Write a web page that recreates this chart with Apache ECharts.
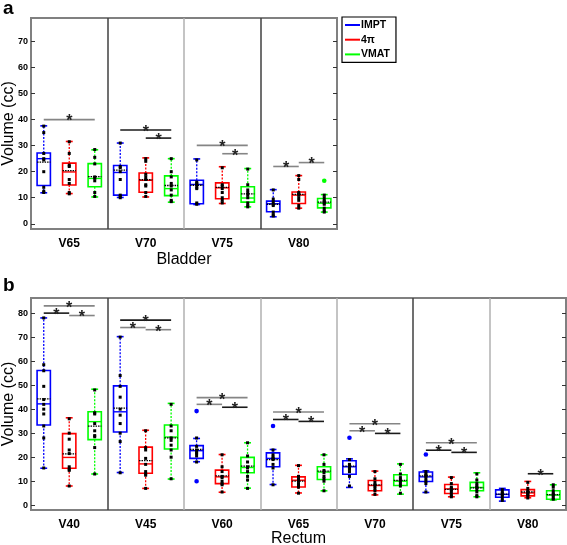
<!DOCTYPE html>
<html>
<head>
<meta charset="utf-8">
<script src="https://cdn.jsdelivr.net/npm/echarts@6/dist/echarts.min.js"></script>
<style>
html,body{margin:0;padding:0;background:#fff;}
#chart{width:567px;height:545px;}
</style>
</head>
<body>
<div id="chart"></div>
<script>
// ---------- DATA ----------
const groupNames = ['IMPT', '4\u03c0', 'VMAT'];
const bladderCats = ['V65', 'V70', 'V75', 'V80'];
const rectumCats = ['V40', 'V45', 'V60', 'V65', 'V70', 'V75', 'V80'];
const bladderTicks = [0, 10, 20, 30, 40, 50, 60, 70];
const rectumTicks = [0, 10, 20, 30, 40, 50, 60, 70, 80];

// box stats: [min, q1, median, q3, max, mean]
const bladderIMPT = [[11.9,14.7,25.0,27.2,37.6,23.7],[10.1,11.0,19.7,22.4,31.0,20.6],[7.4,7.7,15.1,16.7,24.9,14.8],[2.7,4.6,7.7,8.7,13.1,7.5]];
const bladder4pi  = [[11.6,14.9,19.9,23.3,31.6,20.4],[10.3,12.1,16.7,19.5,25.3,16.9],[7.8,9.6,13.8,15.7,21.9,14.0],[6.0,7.8,11.0,12.2,18.5,11.3]];
const bladderVMAT = [[10.3,14.2,17.4,23.1,28.4,18.1],[8.3,10.8,13.5,18.4,25.0,14.7],[6.5,8.3,9.9,14.2,21.2,11.5],[4.5,6.1,7.9,9.7,11.2,8.3]];

const bladderIMPTPts = [[37.5,35,27,25,24.5,20,14,12.5,12],[31,22,21.5,20,17,11,10.5,10],[24.5,16,15.5,15,14,13.5,8,7.5],[13,9.5,8.5,7.5,7,4.5,3.5,3]];
const bladder4piPts  = [[31.5,27,22.5,22,17,15.5,12,11.5],[25,24,19,18,17,15,14.5,12,10.5],[21.5,15,14.5,13.5,12,10,9,8],[18.5,17,12,11.5,11,10,9,7,6]];
const bladderVMATPts = [[28.5,25.5,23,18,17.5,16.5,12,10.5],[25,20,18,15.5,14.5,13,11,9,8.5],[21,15,13,12,11,10,8,7,6.5],[11,10,9,8.5,8,7.5,6,5,4.5]];

// outliers: [categoryIndex, value]
const bladderIMPTOut = [];
const bladder4piOut = [];
const bladderVMATOut = [[3,16.5]];

// significance bars: [categoryIndex, fromGroup, toGroup, value, dark]
const bladderSig = [[0,0,2,40.0,0],[1,0,2,36.0,1],[1,1,2,32.9,1],[2,0,2,30.1,0],[2,1,2,26.9,0],[3,0,1,22.0,0],[3,1,2,23.5,0]];

const rectumIMPT = [[15.4,33.4,42.2,56.1,78.0,44.3],[13.6,30.5,38.9,49.7,70.2,40.4],[18.1,19.5,22.7,24.8,27.8,23.2],[8.6,16.0,19.5,21.8,23.2,19.0],[7.4,12.9,16.0,18.5,19.3,16.3],[5.3,9.9,11.8,13.8,14.3,12.2],[1.7,3.3,4.5,6.4,7.0,4.6]];
const rectum4pi  = [[8.0,15.4,19.9,29.8,36.4,21.4],[7.0,13.3,17.2,24.2,31.2,18.6],[5.4,9.0,11.8,14.6,21.1,12.2],[5.1,7.6,10.4,11.8,16.6,10.0],[4.3,6.0,8.2,10.3,14.2,8.5],[3.5,4.9,6.8,8.6,11.7,6.6],[3.1,3.9,5.1,6.5,9.9,5.5]];
const rectumVMAT = [[13.0,27.3,34.8,38.9,48.3,32.9],[10.9,23.4,28.4,33.4,42.4,28.0],[7.1,13.5,15.7,19.9,26.0,16.3],[6.0,10.7,13.8,16.0,21.0,14.2],[4.6,8.2,10.0,12.7,17.2,10.3],[3.5,6.0,7.4,9.5,13.5,7.2],[2.2,2.5,4.2,6.0,8.5,4.4]];

const rectumIMPTPts = [[78,58.5,56,49.5,44,42,40,38,33,28,15.5],[70,54,49.5,45,40,37.5,34,30,26.5,13.5],[28,24.5,23,22,21.5,20.5,18],[23,21,20,19.5,19,17,15.5,8.5],[19,17,16.5,15.5,15,14,12,8],[14,13,12.5,12,11,10,9,5.5],[6.5,5.5,5,4.5,4,3,2]];
const rectum4piPts  = [[36,30,27.5,23,21.5,16,15,14.5,8],[31,24,23,19.5,17,14,13,12.5,7],[21,16,14,12,11.5,10,9,8.5,5.5],[16.5,12,11,10,9,8,7.5,5],[14,11,9.5,8.5,8,7,6,4.5],[11.5,9,7.5,7,6.5,6,5,4,3.5],[9.5,7,6,5.5,5,4.5,4,3]];
const rectumVMATPts = [[48,38.5,38,34,31,29,28.5,24,13],[42,33,31,28,27,25,23,20,11],[26,20.5,18,16,15.5,14,12,10.5,7],[21,17,14.5,13.5,12,11,10,6],[17,13,11.5,10.5,10,9,8,5],[13,10.5,9,8,7.5,6.5,5.5,4,3.5],[8.5,7.5,6,5,4.5,4,3,2.5]];

const rectumIMPTOut = [[2,39.2],[2,10.0],[3,33.0],[4,28.1],[5,21.1]];
const rectum4piOut = [];
const rectumVMATOut = [];

const rectumSig = [[0,0,2,83.0,0],[0,0,1,80.0,1],[0,1,2,79.0,0],[1,0,2,77.1,1],[1,0,1,74.0,0],[1,1,2,73.1,0],[2,0,2,44.8,0],[2,0,1,42.0,0],[2,1,2,40.8,1],[3,0,2,38.8,0],[3,0,1,35.7,1],[3,1,2,34.9,1],[4,0,2,33.9,0],[4,0,1,31.0,0],[4,1,2,29.9,1],[5,0,2,26.0,0],[5,0,1,22.9,1],[5,1,2,22.0,1],[6,1,2,13.1,1]];

// ---------- STYLE ----------
const COLORS = ['#0000ff', '#ff0000', '#00ff00'];
const FONT = 'Liberation Sans, Arial, Helvetica, sans-serif';

function boxRenderer(g) {
  return function (params, api) {
    const cat = api.value(0);
    const band = api.size([1, 0])[0];
    const cx = api.coord([cat, 0])[0] + (g - 1) * band / 3;
    const yv = i => api.coord([cat, api.value(i)])[1];
    const mn = yv(1), q1 = yv(2), md = yv(3), q3 = yv(4), mx = yv(5), mean = yv(6);
    const hw = band * 0.087, cw = band * 0.045;
    const col = COLORS[g];
    const dotted = {stroke: col, lineWidth: 1.3, lineDash: [2, 1.5]};
    const solid = {stroke: col, lineWidth: 1.6};
    return {type: 'group', children: [
      {type: 'line', shape: {x1: cx, y1: q1, x2: cx, y2: mn}, style: dotted},
      {type: 'line', shape: {x1: cx, y1: q3, x2: cx, y2: mx}, style: dotted},
      {type: 'line', shape: {x1: cx - cw, y1: mn, x2: cx + cw, y2: mn}, style: solid},
      {type: 'line', shape: {x1: cx - cw, y1: mx, x2: cx + cw, y2: mx}, style: solid},
      {type: 'rect', shape: {x: cx - hw, y: q3, width: 2 * hw, height: q1 - q3}, style: {fill: '#fff', stroke: col, lineWidth: 1.6}},
      {type: 'line', shape: {x1: cx - hw, y1: md, x2: cx + hw, y2: md}, style: {stroke: col, lineWidth: 1.4}},
      {type: 'line', shape: {x1: cx - hw, y1: mean, x2: cx + hw, y2: mean}, style: {stroke: '#000', lineWidth: 1.3, lineDash: [1.5, 1]}}
    ]};
  };
}
function pointRenderer(g) {
  return function (params, api) {
    const band = api.size([1, 0])[0];
    const p = api.coord([api.value(0), api.value(1)]);
    return {type: 'rect', shape: {x: p[0] + (g - 1) * band / 3 - 1.5, y: p[1] - 1.5, width: 3, height: 3}, style: {fill: '#000'}};
  };
}
function outRenderer(g) {
  return function (params, api) {
    const band = api.size([1, 0])[0];
    const p = api.coord([api.value(0), api.value(1)]);
    return {type: 'circle', shape: {cx: p[0] + (g - 1) * band / 3, cy: p[1], r: 2.3}, style: {fill: COLORS[g]}};
  };
}
function sigRenderer(params, api) {
  const cat = api.value(0), g1 = api.value(1), g2 = api.value(2), v = api.value(3), dark = api.value(4);
  const band = api.size([1, 0])[0];
  const base = api.coord([cat, v]);
  const x1 = base[0] + (g1 - 1) * band / 3, x2 = base[0] + (g2 - 1) * band / 3;
  const col = dark ? '#1a1a1a' : '#858585';
  return {type: 'group', children: [
    {type: 'line', shape: {x1: x1, y1: base[1], x2: x2, y2: base[1]}, style: {stroke: col, lineWidth: 1.6}},
    {type: 'text', x: (x1 + x2) / 2, y: base[1] + 2.5, style: {text: '*', fill: '#222', font: 'bold 16px ' + FONT, align: 'center', verticalAlign: 'middle'}}
  ]};
}

function panelSeries(p, cats, stats, pts, outs, sig) {
  const s = [];
  for (let g = 0; g < 3; g++) {
    s.push({
      name: groupNames[g], type: 'custom', xAxisIndex: p, yAxisIndex: 2 * p,
      itemStyle: {color: COLORS[g]}, renderItem: boxRenderer(g),
      encode: {x: 0, y: [1, 2, 3, 4, 5, 6]},
      data: cats.map((c, i) => [i].concat(stats[g][i]))
    });
  }
  for (let g = 0; g < 3; g++) {
    s.push({
      type: 'custom', xAxisIndex: p, yAxisIndex: 2 * p, renderItem: pointRenderer(g),
      encode: {x: 0, y: 1},
      data: pts[g].flatMap((arr, i) => arr.map(v => [i, v]))
    });
    s.push({
      type: 'custom', xAxisIndex: p, yAxisIndex: 2 * p, renderItem: outRenderer(g),
      encode: {x: 0, y: 1}, data: outs[g]
    });
  }
  s.push({type: 'custom', xAxisIndex: p, yAxisIndex: 2 * p, renderItem: sigRenderer, encode: {x: 0, y: 3}, data: sig});
  return s;
}

function xAxisFor(p, cats, name, sepColors, margin, gap) {
  return {
    type: 'category', gridIndex: p, data: cats,
    axisLine: {show: false}, axisTick: {show: false},
    axisLabel: {margin: margin, fontSize: 12, fontWeight: 'bold', color: '#000', fontFamily: FONT},
    splitLine: {show: true, lineStyle: {color: sepColors, width: 1.5}},
    name: name, nameLocation: 'middle', nameGap: gap, nameMoveOverlap: false,
    nameTextStyle: {fontSize: 16, color: '#000', fontFamily: FONT}
  };
}
function yAxesFor(p, max, ticks) {
  return [{
    type: 'value', gridIndex: p, min: -2, max: max, position: 'left',
    axisLine: {show: false},
    axisTick: {show: true, inside: true, length: 4, customValues: ticks, lineStyle: {color: '#333', width: 1}},
    axisLabel: {customValues: ticks, margin: 3, fontSize: 9, fontWeight: 'bold', color: '#000', fontFamily: FONT},
    splitLine: {show: false},
    name: 'Volume (cc)', nameLocation: 'middle', nameGap: 14, nameMoveOverlap: false,
    nameTextStyle: {fontSize: 16, color: '#000', fontFamily: FONT}
  }, {
    type: 'value', gridIndex: p, min: -2, max: max, position: 'right',
    axisLine: {show: false},
    axisTick: {show: true, inside: true, length: 4, customValues: ticks, lineStyle: {color: '#333', width: 1}},
    axisLabel: {show: false}, splitLine: {show: false}
  }];
}

const chart = echarts.init(document.getElementById('chart'), null, {renderer: 'canvas'});
chart.setOption({
  animation: false,
  backgroundColor: '#fff',
  textStyle: {fontFamily: FONT},
  grid: [
    {left: 31, top: 18, width: 306, height: 211, show: true, borderColor: '#808080', borderWidth: 2, containLabel: false, outerBoundsMode: 'none'},
    {left: 31, top: 298, width: 535, height: 212, show: true, borderColor: '#808080', borderWidth: 2, containLabel: false, outerBoundsMode: 'none'}
  ],
  xAxis: [
    xAxisFor(0, bladderCats, 'Bladder', ['#808080', '#404040', '#b0b0b0', '#404040', '#808080'], 9, 23),
    xAxisFor(1, rectumCats, 'Rectum', ['#808080', '#404040', '#b0b0b0', '#b0b0b0', '#b0b0b0', '#404040', '#b0b0b0', '#808080'], 8.5, 21)
  ],
  yAxis: yAxesFor(0, 79, bladderTicks).concat(yAxesFor(1, 86.3, rectumTicks)),
  legend: {
    orient: 'vertical', left: 342, top: 17, padding: [2, 6, 2, 3],
    borderColor: '#000', borderWidth: 1.2, backgroundColor: '#fff',
    itemWidth: 15, itemHeight: 2, itemGap: 2.7, icon: 'rect',
    textStyle: {fontSize: 10.5, fontWeight: 'bold', color: '#000', lineHeight: 12, padding: [0, 0, 0, -4], fontFamily: FONT},
    data: groupNames
  },
  graphic: [
    {type: 'text', left: 3, top: -1, style: {text: 'a', font: 'bold 19px ' + FONT, fill: '#000'}},
    {type: 'text', left: 3, top: 276, style: {text: 'b', font: 'bold 19px ' + FONT, fill: '#000'}}
  ],
  series: panelSeries(0, bladderCats,
      [bladderIMPT, bladder4pi, bladderVMAT],
      [bladderIMPTPts, bladder4piPts, bladderVMATPts],
      [bladderIMPTOut, bladder4piOut, bladderVMATOut], bladderSig)
    .concat(panelSeries(1, rectumCats,
      [rectumIMPT, rectum4pi, rectumVMAT],
      [rectumIMPTPts, rectum4piPts, rectumVMATPts],
      [rectumIMPTOut, rectum4piOut, rectumVMATOut], rectumSig))
});
</script>
</body>
</html>
